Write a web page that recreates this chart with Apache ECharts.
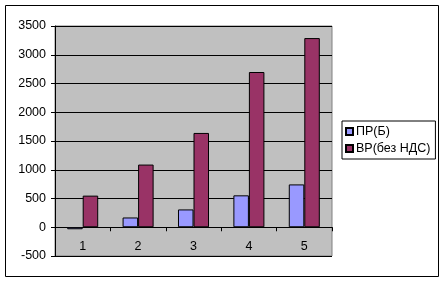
<!DOCTYPE html>
<html><head><meta charset="utf-8">
<script src="https://cdn.jsdelivr.net/npm/echarts@6/dist/echarts.min.js"></script>
<style>html,body{margin:0;padding:0;background:#fff}#c{width:445px;height:283px}</style>
</head><body><div id="c"></div>
<script>
const categories = ['1','2','3','4','5'];
const seriesNames = ['ПР(Б)','ВР(без НДС)'];
const prValues = [-35, 170, 310, 555, 745];
const vrValues = [550, 1090, 1640, 2700, 3290];
const yTicks = {min:-500, max:3500, interval:500};

const chart = echarts.init(document.getElementById('c'), null, {renderer:'canvas'});
const font = 'Liberation Sans, Arial, sans-serif';
chart.setOption({
  animation:false,
  backgroundColor:'#fff',
  textStyle:{fontFamily:font},
  graphic:[{type:'rect', shape:{x:5.5,y:5.5,width:433,height:271}, style:{fill:'none', stroke:'#000', lineWidth:1}, silent:true}],
  grid:{left:55, top:26, width:277, height:230, show:true, backgroundColor:'#C0C0C0', borderColor:'#808080', borderWidth:1},
  legend:{orient:'vertical', left:342, top:121, borderColor:'#000', borderWidth:1, padding:[4,5,4,3],
    itemWidth:7, itemHeight:7, itemGap:4, icon:'rect',
    textStyle:{fontFamily:font, fontSize:12.5, color:'#000', padding:[0,0,0,-2]},
    data:seriesNames},
  xAxis:{type:'category', data:categories,
    axisLine:{show:true, onZero:true, lineStyle:{color:'#000', width:1}},
    axisTick:{show:true, length:4, lineStyle:{color:'#000'}},
    axisLabel:{fontFamily:font, fontSize:12.5, color:'#000', margin:-16},
    splitLine:{show:false}},
  yAxis:{type:'value', min:yTicks.min, max:yTicks.max, interval:yTicks.interval,
    axisLine:{show:true, lineStyle:{color:'#000'}},
    axisTick:{show:true, length:4, lineStyle:{color:'#000'}},
    axisLabel:{fontFamily:font, fontSize:12.5, color:'#000', margin:9, formatter:v=>String(v)},
    splitLine:{show:true, lineStyle:{color:'#000', width:1}}},
  series:[
    {name:seriesNames[0], type:'bar', data:prValues, barWidth:'28%', barGap:'0%',
      itemStyle:{color:'#9999FF', borderColor:'#000', borderWidth:1}},
    {name:seriesNames[1], type:'bar', data:vrValues, barWidth:'28%', barGap:'0%',
      itemStyle:{color:'#993366', borderColor:'#000', borderWidth:1}}
  ]
});
</script></body></html>
